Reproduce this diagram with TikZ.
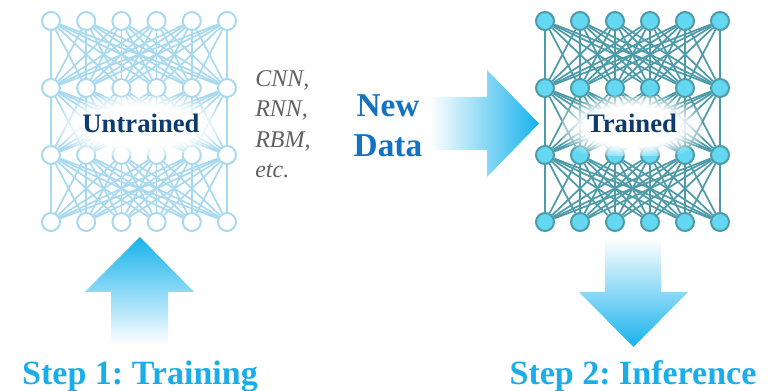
\documentclass[tikz,border=0pt]{standalone}
\usepackage{fontspec}
\setmainfont{Liberation Serif}
\usetikzlibrary{fadings}
\definecolor{lightnet}{HTML}{A8D9EF}
\definecolor{darknet}{HTML}{4D9BA8}
\definecolor{nodecyan}{HTML}{64D7F2}
\definecolor{arrowcyan}{HTML}{17B2EC}
\definecolor{labelnavy}{HTML}{0D3B6E}
\definecolor{datablue}{HTML}{1372C4}
\definecolor{stepblue}{HTML}{1BADE8}
% soft white glow behind the net labels
\pgfdeclareradialshading{glowshade}{\pgfpoint{0bp}{0bp}}{color(0bp)=(white); color(17bp)=(white); color(29bp)=(black); color(50bp)=(black)}
\pgfdeclarefading{glow}{\pgfuseshading{glowshade}}
\frenchspacing

\begin{document}
\begin{tikzpicture}[x=0.75pt,y=-0.75pt,
	unode/.style={circle,draw=lightnet,fill=white,line width=1.5pt,minimum size=13.5pt,inner sep=0pt},
	tnode/.style={circle,draw=darknet,fill=nodecyan,line width=1.5pt,minimum size=13.5pt,inner sep=0pt},
	uedge/.style={draw=lightnet,line width=1.3pt},
	tedge/.style={draw=darknet,line width=1.3pt},
	netlabel/.style={font=\fontsize{20}{24}\selectfont\bfseries,text=labelnavy,anchor=base,inner sep=0pt},
	kindlabel/.style={font=\fontsize{18}{22}\selectfont\itshape,text=black!62,anchor=base west,inner sep=0pt},
	datalabel/.style={font=\fontsize{25}{30}\selectfont\bfseries,text=datablue,anchor=base,inner sep=0pt},
	steplabel/.style={font=\fontsize{25.5}{30}\selectfont\bfseries,text=stepblue,anchor=base,inner sep=0pt}]
	\useasboundingbox (0,0) rectangle (776,391);

	% untrained net
	\foreach \r in {1,...,4}
		\foreach \c in {1,...,6}
			\node[unode] (u\r\c) at ({51+35.2*(\c-1)},{21+67*(\r-1)}) {};
	\foreach \r/\s in {1/2,2/3,3/4}
		\foreach \c in {1,...,6}
			\foreach \d in {1,...,6}
				\draw[uedge] (u\r\c) -- (u\s\d);
	\fill[white,path fading=glow] (58,96) rectangle (224,156);
	\node[netlabel] (untrained) at (141,133) {Untrained};

	% trained net
	\foreach \r in {1,...,4}
		\foreach \c in {1,...,6}
			\node[tnode] (t\r\c) at ({545+35*(\c-1)},{21+67*(\r-1)}) {};
	\foreach \r/\s in {1/2,2/3,3/4}
		\foreach \c in {1,...,6}
			\foreach \d in {1,...,6}
				\draw[tedge] (t\r\c) -- (t\s\d);
	\fill[white,path fading=glow] (562,96) rectangle (702,156);
	\node[netlabel] (trained) at (632,133) {Trained};

	\node[kindlabel] (cnn) at (255,87) {CNN,};
	\node[kindlabel] (rnn) at (255,117) {RNN,};
	\node[kindlabel] (rbm) at (255,148) {RBM,};
	\node[kindlabel] (etc) at (255,178) {etc.};

	\node[datalabel] (new) at (388,117) {New};
	\node[datalabel] (data) at (388,157) {Data};

	% block arrows
	\shade[left color=white,middle color=arrowcyan!55,right color=arrowcyan] (430,97) -- (487,97) -- (487,70) -- (539,123.5) -- (487,177) -- (487,150) -- (430,150) -- cycle;
	\shade[top color=arrowcyan,middle color=arrowcyan!55,bottom color=white] (140,237) -- (194,292) -- (168,292) -- (168,345) -- (111,345) -- (111,292) -- (85,292) -- cycle;
	\shade[top color=white,middle color=arrowcyan!55,bottom color=arrowcyan] (605,238) -- (661,238) -- (661,292) -- (688,292) -- (633.5,347) -- (579,292) -- (605,292) -- cycle;

	\node[steplabel] (training) at (140,385) {Step 1: Training};
	\node[steplabel] (inference) at (633,385) {Step 2: Inference};
\end{tikzpicture}
\end{document}
